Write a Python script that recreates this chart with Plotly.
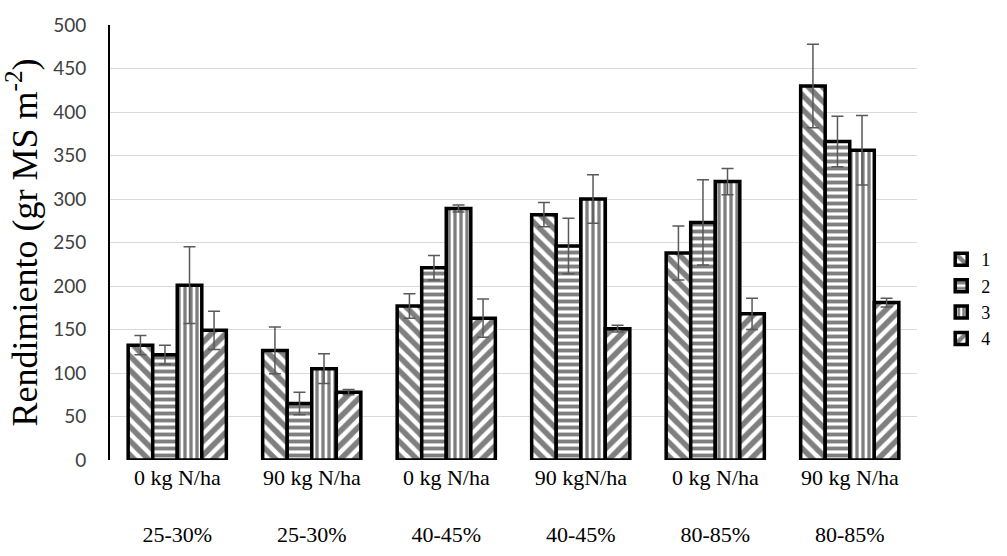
import plotly.graph_objects as go

doses = ["0 kg N/ha", "90 kg N/ha", "0 kg N/ha", "90 kgN/ha", "0 kg N/ha", "90 kg N/ha"]
humidity = ["25-30%", "25-30%", "40-45%", "40-45%", "80-85%", "80-85%"]
series_names = ["1", "2", "3", "4"]
values = [
    [132, 126, 177, 282, 238, 430],
    [121, 65, 221, 246, 273, 366],
    [201, 105, 289, 300, 320, 356],
    [149, 78, 163, 151, 168, 181],
]
errors = [
    [11, 27, 14, 14, 31, 48],
    [11, 13, 14, 32, 49, 29],
    [44, 17, 4, 28, 15, 40],
    [22, 3, 22, 4, 18, 5],
]
patterns = ["\\", "-", "|", "/"]
pattern_sizes = [10, 7, 6, 10]

categories = [f"{d}<br> <br>{h}" for d, h in zip(doses, humidity)]

fig = go.Figure()
for name, vals, errs, pat, psz in zip(series_names, values, errors, patterns, pattern_sizes):
    fig.add_trace(go.Bar(
        name=name, x=categories, y=vals,
        marker=dict(color="white",
                    line=dict(color="black", width=3.5),
                    pattern=dict(shape=pat, fgcolor="black", bgcolor="white",
                                 size=psz, solidity=0.55, fillmode="overlay")),
        error_y=dict(type="data", array=errs, visible=True,
                     color="#595959", thickness=1.5, width=6),
    ))

fig.update_layout(
    width=1007, height=556,
    margin=dict(l=110, r=87, t=25, b=96),
    paper_bgcolor="white", plot_bgcolor="white",
    barmode="group", bargap=0.27, bargroupgap=0,
    showlegend=True,
    legend=dict(x=1.03, y=0.37, xanchor="left", yanchor="middle",
                font=dict(family="Liberation Serif", size=18, color="black"),
                tracegroupgap=0, itemwidth=30),
    yaxis=dict(range=[0, 500], dtick=50, showgrid=True, gridcolor="#d9d9d9",
               gridwidth=1, showline=True, linecolor="black", linewidth=2,
               zeroline=False, ticks="outside", ticklen=18,
               tickcolor="rgba(0,0,0,0)", automargin=False,
               tickfont=dict(family="Lato", size=19, color="#404040"),
               title=dict(text="Rendimiento (gr MS m<sup>-2</sup>)",
                          font=dict(family="Liberation Serif", size=36, color="black"),
                          standoff=8)),
    xaxis=dict(type="category", showline=False, showgrid=False, ticks="",
               automargin=False,
               tickfont=dict(family="Liberation Serif", size=22, color="black"),
               tickangle=0, ticklabelstandoff=2),
)

fig.write_html("out.html")
